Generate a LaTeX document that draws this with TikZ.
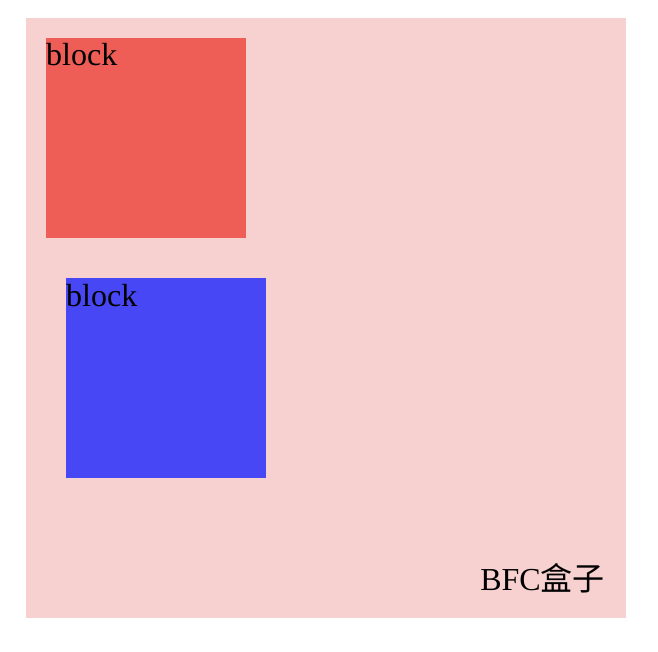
\documentclass[tikz,border=0pt]{standalone}
\usepackage{fontspec}
\setmainfont{Liberation Serif}
\newfontfamily\cjk{Noto Sans CJK SC}
\definecolor{bfcpink}{HTML}{F7D0D0}
\definecolor{blockred}{HTML}{EE5E57}
\definecolor{blockblue}{HTML}{4747F5}
\begin{document}
\begin{tikzpicture}[x=1pt, y=-1pt,
		box/.style={minimum width=#1, minimum height=#1, inner sep=0pt, outer sep=0pt, anchor=north west},
		txt/.style={font=\fontsize{32}{38}\selectfont, inner sep=0pt, text=black}]
			\useasboundingbox (0,0) rectangle (658,652);
			\node[box=600, fill=bfcpink] (bfc) at (26,18) {};
			\node[box=200, fill=blockred] (red) at (46,38) {};
			\node[box=200, fill=blockblue] (blue) at (66,278) {};
			\node[txt, anchor=base west] (redlbl) at ([yshift=-28pt]red.north west) {block};
			\node[txt, anchor=base west] (bluelbl) at ([yshift=-28pt]blue.north west) {block};
			\node[txt, anchor=base east] (bfclbl) at ([xshift=-21pt, yshift=28pt]bfc.south east) {BFC{\cjk 盒子}};
		\end{tikzpicture}
\end{document}
